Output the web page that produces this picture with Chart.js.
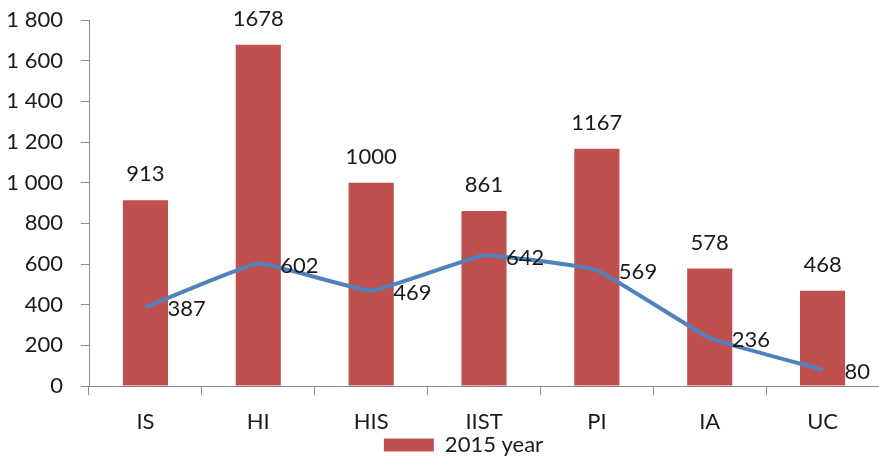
<!DOCTYPE html>
<html>
<head>
<meta charset="utf-8">
<script src="https://cdn.jsdelivr.net/npm/chart.js@4"></script>
<style>
  html, body { margin: 0; padding: 0; background: #fff; }
  #wrap { width: 879px; height: 459px; }
</style>
</head>
<body>
<div id="wrap"><canvas id="c" width="879" height="459"></canvas></div>
<script>
const categories = ['IS', 'HI', 'HIS', 'IIST', 'PI', 'IA', 'UC'];
const barValues = [913, 1678, 1000, 861, 1167, 578, 468];
const lineValues = [387, 602, 469, 642, 569, 236, 80];
const barLabel = '2015 year';
const lineLabel = 'Line';

const FONT = 'Lato, "Open Sans", "Liberation Sans", sans-serif';
const TEXT = '#1a1a1a';
const AXIS = '#8c8c8c';

function spaced(v) {
  return String(v).replace(/\B(?=(\d{3})+(?!\d))/g, ' ');
}

// Value labels: above each bar, to the right of each line point
const valueLabels = {
  id: 'valueLabels',
  afterDatasetsDraw(chart) {
    const ctx = chart.ctx;
    ctx.save();
    ctx.font = '22px ' + FONT;
    ctx.fillStyle = TEXT;
    chart.data.datasets.forEach((ds, i) => {
      const meta = chart.getDatasetMeta(i);
      meta.data.forEach((el, j) => {
        const v = ds.data[j];
        if (ds.type === 'line') {
          ctx.textAlign = 'left';
          ctx.textBaseline = 'middle';
          ctx.fillText(String(v), el.x + 22, el.y + 2);
        } else {
          ctx.textAlign = 'center';
          ctx.textBaseline = 'middle';
          ctx.fillText(String(v), el.x, el.y - 26);
        }
      });
    });
    ctx.restore();
  }
};

// Nudge the legend a little to the right of centre
const legendShift = {
  id: 'legendShift',
  afterLayout(chart) {
    if (chart.legend) {
      chart.legend.left += 24;
      chart.legend.right += 24;
    }
  }
};

new Chart(document.getElementById('c'), {
  data: {
    labels: categories,
    datasets: [
      {
        type: 'line',
        label: lineLabel,
        data: lineValues,
        borderColor: '#4F81BD',
        backgroundColor: '#4F81BD',
        borderWidth: 4,
        pointRadius: 0,
        tension: 0.1,
        order: 0
      },
      {
        type: 'bar',
        label: barLabel,
        data: barValues,
        backgroundColor: '#C0504D',
        borderWidth: 0,
        categoryPercentage: 1.0,
        barPercentage: 0.4,
        order: 1
      }
    ]
  },
  options: {
    responsive: false,
    animation: false,
    layout: { padding: { top: 0, right: 0, bottom: 0, left: 0 } },
    plugins: {
      tooltip: { enabled: false },
      legend: {
        position: 'bottom',
        maxHeight: 25,
        labels: {
          filter: item => item.text === barLabel,
          boxWidth: 50,
          boxHeight: 13,
          color: TEXT,
          font: { family: FONT, size: 22 },
          padding: 0
        }
      }
    },
    scales: {
      x: {
        offset: true,
        grid: {
          display: true,
          drawOnChartArea: false,
          offset: true,
          tickLength: 9,
          color: AXIS,
          lineWidth: 1
        },
        border: { color: AXIS, width: 1 },
        ticks: {
          color: TEXT,
          font: { family: FONT, size: 22 },
          padding: 14
        },
        afterFit(scale) { scale.height = 48; }
      },
      y: {
        min: 0,
        max: 1800,
        grid: {
          display: true,
          drawOnChartArea: false,
          tickLength: 8,
          color: AXIS,
          lineWidth: 1
        },
        border: { color: AXIS, width: 1 },
        ticks: {
          stepSize: 200,
          color: TEXT,
          font: { family: FONT, size: 22 },
          padding: 18,
          callback: v => spaced(v)
        },
        afterFit(scale) {
          scale.width = 89;
          scale.paddingTop = 20;
          scale.paddingBottom = 0;
        }
      }
    }
  },
  plugins: [valueLabels, legendShift]
});
</script>
</body>
</html>
